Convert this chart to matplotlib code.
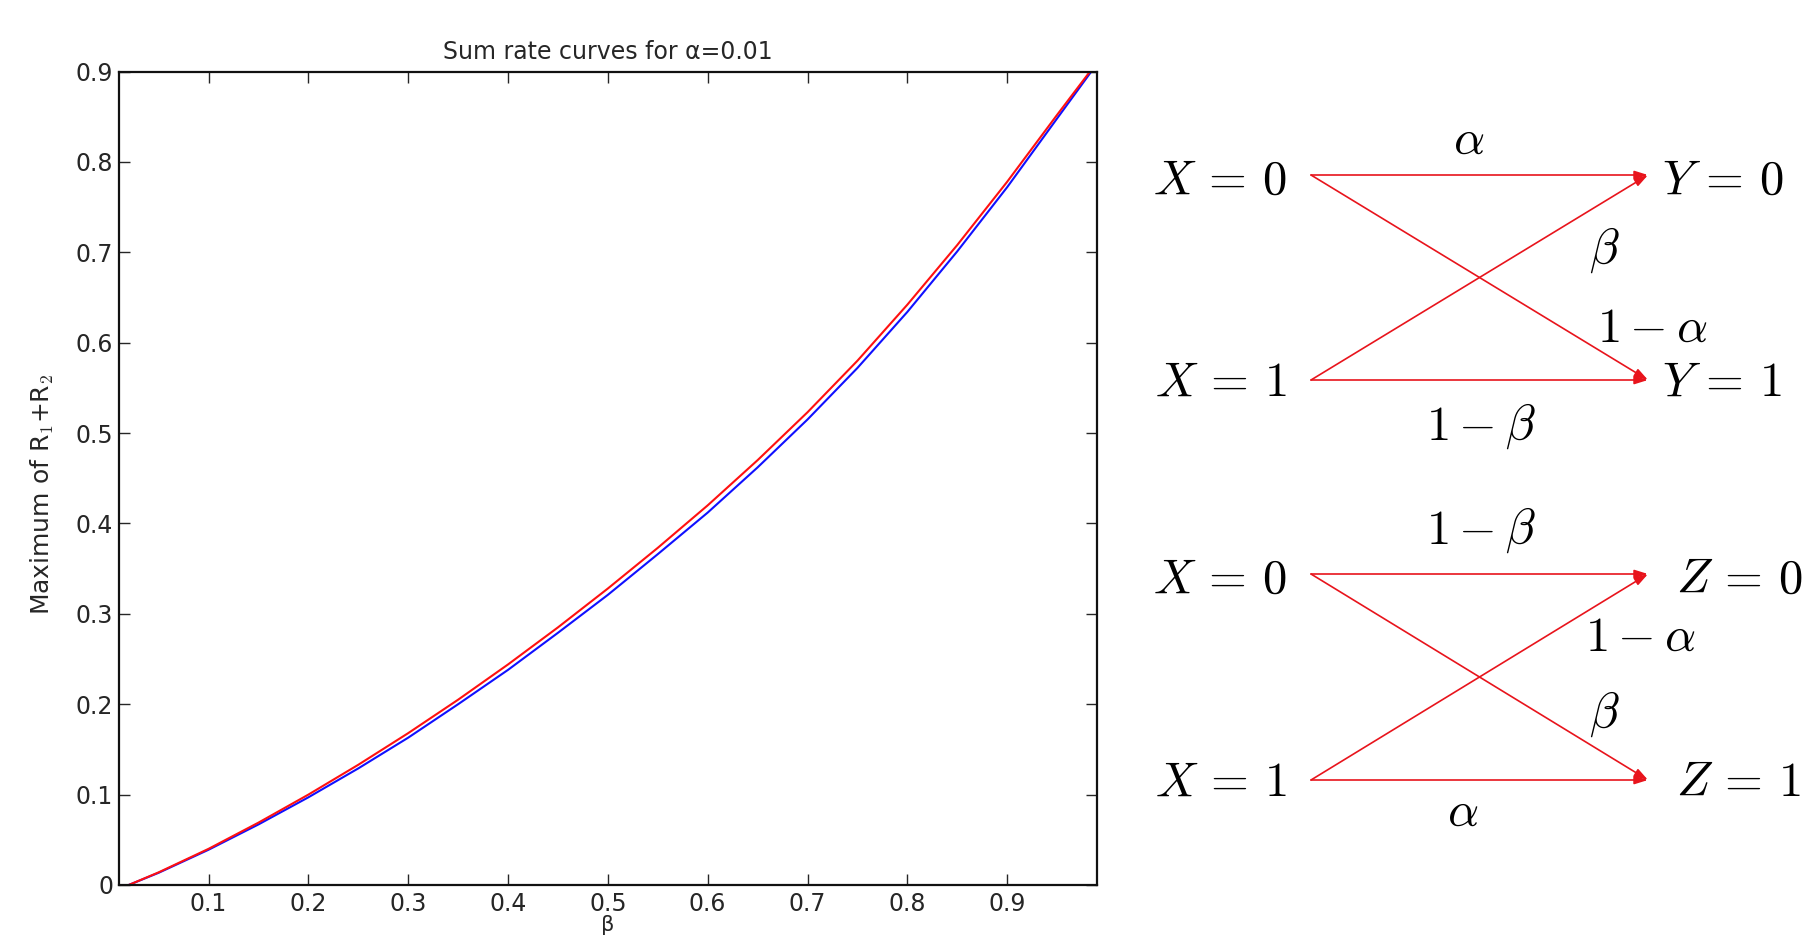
import numpy as np
import matplotlib
matplotlib.use("Agg")
import matplotlib.pyplot as plt

plt.rcParams['font.family'] = ['DejaVu Sans']
plt.rcParams['mathtext.fontset'] = 'cm'

# ---- data ----
beta = [0.02, 0.05, 0.10, 0.15, 0.20, 0.25, 0.30, 0.35, 0.40, 0.45, 0.50,
        0.55, 0.60, 0.65, 0.70, 0.75, 0.80, 0.85, 0.90, 0.95, 0.983]
sum_rate_red = [0.000, 0.014, 0.040, 0.069, 0.100, 0.133, 0.168, 0.205, 0.244, 0.285, 0.328,
                0.373, 0.420, 0.470, 0.523, 0.580, 0.642, 0.708, 0.778, 0.852, 0.900]
sum_rate_blue = [0.000, 0.0135, 0.039, 0.067, 0.097, 0.129, 0.163, 0.200, 0.238, 0.279, 0.321,
                 0.366, 0.412, 0.462, 0.515, 0.572, 0.634, 0.701, 0.772, 0.848, 0.898]
xticks = [0.1, 0.2, 0.3, 0.4, 0.5, 0.6, 0.7, 0.8, 0.9]
yticks = [0, 0.1, 0.2, 0.3, 0.4, 0.5, 0.6, 0.7, 0.8, 0.9]

# channel diagram labels
top_inputs = [r'$X\,=\,0$', r'$X\,=\,1$']
top_outputs = [r'$Y\,=\,0$', r'$Y\,=\,1$']
top_edge_labels = [r'$\alpha$', r'$\beta$', r'$1-\alpha$', r'$1-\beta$']
bot_inputs = [r'$X\,=\,0$', r'$X\,=\,1$']
bot_outputs = [r'$Z\,=\,0$', r'$Z\,=\,1$']
bot_edge_labels = [r'$1-\beta$', r'$1-\alpha$', r'$\beta$', r'$\alpha$']

W, H = 1807, 944
fig = plt.figure(figsize=(W / 100, H / 100), dpi=100)

# ---- diagram layer (pixel coordinates) ----
dg = fig.add_axes([0, 0, 1, 1])
dg.set_xlim(0, W)
dg.set_ylim(H, 0)
dg.axis('off')

red = '#e8141c'
x0, x1 = 1311, 1648
fs = 35

def channel(y_top, y_bot, inputs, outputs, out_x, labels, label_pos):
    ends = [(y_top, y_top), (y_top, y_bot), (y_bot, y_top), (y_bot, y_bot)]
    for ya, yb in ends:
        dg.annotate('', xy=(x1, yb), xytext=(x0, ya),
                    arrowprops=dict(arrowstyle='-|>,head_length=0.8,head_width=0.25',
                                    color=red, lw=1.2, shrinkA=0, shrinkB=0))
    dg.text(1287, y_top + 5, inputs[0], fontsize=fs, ha='right', va='center')
    dg.text(1287, y_bot + 2, inputs[1], fontsize=fs, ha='right', va='center')
    dg.text(out_x, y_top + 5, outputs[0], fontsize=fs, ha='left', va='center')
    dg.text(out_x, y_bot + 2, outputs[1], fontsize=fs, ha='left', va='center')
    for lab, (lx, ly) in zip(labels, label_pos):
        dg.text(lx, ly, lab, fontsize=fs, ha='center', va='center')

channel(175, 380, top_inputs, top_outputs, 1662, top_edge_labels,
        [(1469, 140), (1604, 250), (1652, 328), (1481, 426)])
channel(574, 780, bot_inputs, bot_outputs, 1676, bot_edge_labels,
        [(1481, 530), (1640, 637), (1604, 714), (1463, 812)])

# ---- main plot ----
ax = fig.add_axes([118.7 / W, 1 - 885 / H, (1097 - 118.7) / W, (885 - 71.5) / H])
ax.plot(beta, sum_rate_blue, color='#1010ff', lw=1.5)
ax.plot(beta, sum_rate_red, color='#ff1010', lw=1.5)
ax.set_xlim(0.01, 0.99)
ax.set_ylim(0, 0.9)
ax.set_xticks(xticks)
ax.set_yticks(yticks)
ax.set_xticklabels([f'{t:g}' for t in xticks])
ax.set_yticklabels([f'{t:g}' for t in yticks])
ax.tick_params(direction='in', top=True, right=True, length=8, width=1,
               labelsize=17, colors='#262626')
ax.tick_params(axis='x', pad=5)
ax.tick_params(axis='y', pad=4)
for s in ax.spines.values():
    s.set_linewidth(1.6)
    s.set_color('#111111')
ax.set_title('Sum rate curves for α=0.01', fontsize=17, color='#262626', pad=9)
ax.set_xlabel('β', fontsize=15, color='#262626', labelpad=-1)
ax.set_ylabel(r'Maximum of R$_1$+R$_2$', fontsize=18, color='#262626')
ax.yaxis.set_label_coords(-0.064, 0.48)

fig.savefig('out.png', dpi=100, facecolor='white')
